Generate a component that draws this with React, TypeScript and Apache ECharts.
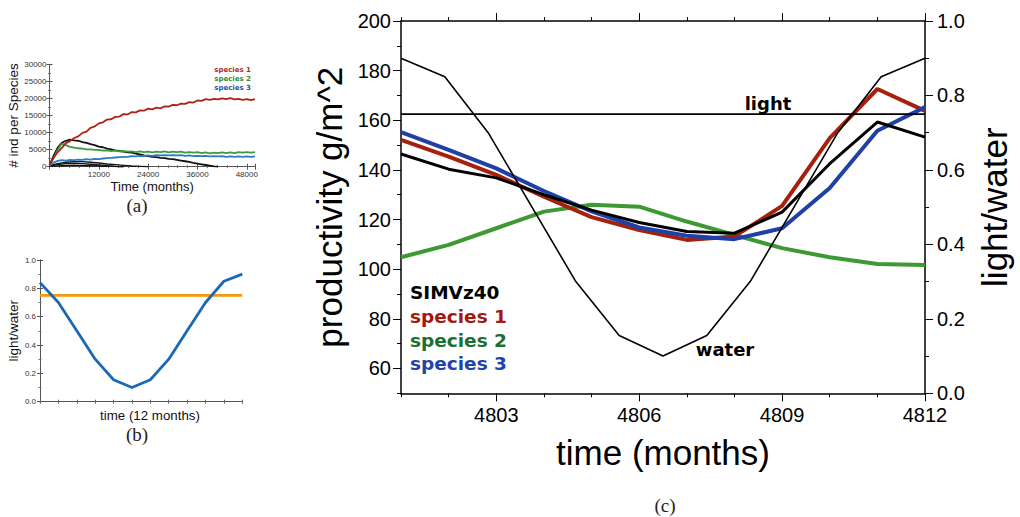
import React, { useEffect, useRef } from "react";
import * as echarts from "echarts";

// ---------- panel (a) data ----------
const aTime = [0,1000,2000,3000,4000,5000,6000,7000,8000,9000,10000,11000,12000,13000,14000,15000,16000,17000,18000,19000,20000,21000,22000,23000,24000,25000,26000,27000,28000,29000,30000,31000,32000,33000,34000,35000,36000,37000,38000,39000,40000,41000,42000,43000,44000,45000,46000,47000,48000,49000,50000];
const aSpecies1 = [500,2600,4300,5500,6900,7500,8400,8900,9900,10300,11400,11800,12700,13000,13800,13900,14600,14700,15400,15300,16000,15900,16500,16400,17000,16800,17300,17100,17700,17600,18100,18000,18500,18400,18900,18800,19400,19300,19800,19600,19900,19700,20000,19800,20100,19700,19900,19600,19800,19500,19800];
const aSpecies2 = [400,2500,5000,6800,6300,5800,5600,5400,5300,5100,5100,4900,4900,4700,4800,4600,4700,4500,4600,4400,4500,4300,4500,4300,4400,4200,4400,4300,4500,4200,4400,4300,4400,4100,4300,4100,4300,4000,4200,3900,4100,4000,4200,4000,4200,4000,4300,4100,4300,4100,4300];
const aSpecies3 = [300,1200,1700,1900,1800,2000,1900,2100,2000,2200,2100,2300,2200,2400,2500,2600,2700,2800,2900,2900,3100,3000,3200,3100,3300,3200,3400,3300,3400,3300,3400,3300,3400,3200,3300,3100,3200,3100,3200,3000,3100,3000,3100,2900,3000,2900,3000,2900,3000,2900,3000];
const aBlack1 = [500,3200,5600,7000,7600,7900,7700,7600,7200,7000,6600,6300,5900,5700,5300,5100,4800,4600,4400,4200,4100,3800,3600,3300,3100,2900,2800,2600,2500,2300,2200,2000,1800,1600,1400,1100,900,700,500,300,100,0];
const aBlack2Time = [0,2000,4000,6000,8000,10000,12000,14000,16000,18000,20000,22000,24000];
const aBlack2 = [300,900,1300,1500,1500,1300,1100,800,600,400,200,100,0];
const aBlack3Time = [0,2000,4000,6000,8000,10000,12000,14000,16000,18000];
const aBlack3 = [200,600,900,1000,900,700,500,300,100,0];
const aBlack4Time = [0,3000,6000,9000,12000,15000,18000];
const aBlack4 = [100,300,400,300,200,100,0];

// ---------- panel (b) data ----------
const bMonth = [0,1,2,3,4,5,6,7,8,9,10,11];
const bWater = [0.84,0.70,0.50,0.30,0.155,0.10,0.155,0.30,0.50,0.70,0.85,0.90];
const bLight = [0.75,0.75];
const bLightX = [0,11];

// ---------- panel (c) data ----------
const cMonths = [4801,4802,4803,4804,4805,4806,4807,4808,4809,4810,4811,4812];
const cSimv = [146.4,140.3,136.8,130.0,123.8,118.8,115.2,114.5,123.0,142.5,159.3,153.2];
const cSpecies1 = [152.1,145.4,138.0,129.2,121.0,115.8,111.8,113.2,125.5,152.8,172.6,163.8];
const cSpecies2 = [104.8,109.8,116.5,123.2,126.0,125.2,119.2,113.8,108.5,104.8,102.1,101.7];
const cSpecies3 = [155.2,148.1,140.6,131.5,123.3,116.8,113.5,112.1,116.5,132.7,155.8,165.3];
const cWaterX = [4801,4801.92,4802.83,4803.75,4804.67,4805.58,4806.5,4807.42,4808.33,4809.25,4810.17,4811.08,4812];
const cWater = [0.90,0.85,0.70,0.50,0.30,0.155,0.10,0.155,0.30,0.50,0.70,0.85,0.90];
const cLightX = [4801,4812];
const cLight = [0.75,0.75];
const cLeftMajor = [60,80,100,120,140,160,180,200];
const cXMajor = [4803,4806,4809,4812];

const pairs = (xs: number[], ys: number[]) => ys.map((y, i) => [xs[i], y]);

const SANS = "Liberation Sans";
const BOLD = "DejaVu Sans";
const SERIF = "Liberation Serif";

const txt = (text: string, x: number, y: number, size: number, family: string, fill: string, align = "center", weight = "normal") => ({
  type: "text",
  style: { text, x, y, fontSize: size, fontFamily: family, fontWeight: weight, fill, textAlign: align, textVerticalAlign: "middle" },
});

export default function App() {
  const ref = useRef<HTMLDivElement>(null);
  useEffect(() => {
    if (!ref.current) return;
    const chart = echarts.init(ref.current, null, { renderer: "svg" });
    const noSplit = { show: false };
    const frameA = { show: true, lineStyle: { color: "#555", width: 1 } };
    const frameC = { show: true, lineStyle: { color: "#000", width: 1.5 } };
    const option: any = {
      animation: false,
      backgroundColor: "#fff",
      grid: [
        { left: 49.5, top: 64.3, width: 205.5, height: 102.4 },
        { left: 40, top: 260, width: 202.3, height: 141.7 },
        { left: 401, top: 21, width: 532, height: 372.3 },
      ],
      xAxis: [
        {
          gridIndex: 0, type: "value", position: "bottom", min: 0, max: 50000, interval: 12000,
          axisLine: frameA, splitLine: noSplit,
          axisTick: { show: true, length: 3, lineStyle: { color: "#555" } },
          minorTick: { show: true, splitNumber: 5, length: 1.5, lineStyle: { color: "#777" } },
          axisLabel: { fontFamily: SANS, fontSize: 8, color: "#333", margin: 4, showMaxLabel: false,
            formatter: (v: number) => (v > 0 && v % 12000 === 0 ? String(v) : "") },
          name: "Time (months)", nameLocation: "middle", nameGap: 11,
          nameTextStyle: { fontFamily: SANS, fontSize: 13, color: "#111" },
        },
        {
          gridIndex: 0, type: "value", position: "top", min: 0, max: 50000, interval: 12000,
          axisLine: frameA, splitLine: noSplit, axisLabel: { show: false },
          axisTick: { show: true, length: 3, lineStyle: { color: "#555" } },
          minorTick: { show: true, splitNumber: 5, length: 1.5, lineStyle: { color: "#777" } },
        },
        {
          gridIndex: 1, type: "value", position: "bottom", min: 0, max: 11, interval: 1,
          axisLine: frameA, splitLine: noSplit, axisLabel: { show: false },
          axisTick: { show: true, length: 2, lineStyle: { color: "#666" } },
        },
        {
          gridIndex: 1, type: "value", position: "top", min: 0, max: 11, interval: 1,
          axisLine: frameA, splitLine: noSplit, axisLabel: { show: false },
          axisTick: { show: true, length: 2, lineStyle: { color: "#666" } },
        },
        {
          gridIndex: 2, type: "value", position: "bottom", min: 4801, max: 4812, interval: 1,
          axisLine: frameC, splitLine: noSplit,
          axisTick: { show: true, length: 4, lineStyle: { color: "#000", width: 1 } },
          axisLabel: { fontFamily: SANS, fontSize: 20, color: "#000", margin: 12,
            formatter: (v: number) => (cXMajor.indexOf(v) >= 0 ? String(v) : "") },
          name: "time (months)", nameLocation: "middle", nameGap: 42,
          nameTextStyle: { fontFamily: SANS, fontSize: 35, color: "#000" },
        },
        {
          gridIndex: 2, type: "value", position: "bottom", min: 4801, max: 4812,
          axisLine: { show: false }, splitLine: noSplit, axisLabel: { show: false },
          axisTick: { show: true, length: 8, customValues: cXMajor, lineStyle: { color: "#000", width: 1 } },
        },
        {
          gridIndex: 2, type: "value", position: "top", min: 4801, max: 4812, interval: 1,
          axisLine: frameC, splitLine: noSplit, axisLabel: { show: false },
          axisTick: { show: true, length: 4, lineStyle: { color: "#000", width: 1 } },
        },
        {
          gridIndex: 2, type: "value", position: "top", min: 4801, max: 4812,
          axisLine: { show: false }, splitLine: noSplit, axisLabel: { show: false },
          axisTick: { show: true, length: 8, customValues: cXMajor, lineStyle: { color: "#000", width: 1 } },
        },
      ],
      yAxis: [
        {
          gridIndex: 0, type: "value", position: "left", min: 0, max: 30000, interval: 5000,
          axisLine: frameA, splitLine: noSplit,
          axisTick: { show: true, length: 3, lineStyle: { color: "#555" } },
          minorTick: { show: true, splitNumber: 2, length: 1.5, lineStyle: { color: "#777" } },
          axisLabel: { fontFamily: SANS, fontSize: 8, color: "#333", margin: 3,
            formatter: (v: number) => String(v) },
          name: "# ind per Species", nameLocation: "middle", nameGap: 27, nameRotate: 90,
          nameTextStyle: { fontFamily: SANS, fontSize: 13.5, color: "#111" },
        },
        {
          gridIndex: 0, type: "value", position: "right", min: 0, max: 30000, interval: 5000,
          axisLine: frameA, splitLine: noSplit, axisLabel: { show: false },
          axisTick: { show: true, length: 3, lineStyle: { color: "#555" } },
          minorTick: { show: true, splitNumber: 2, length: 1.5, lineStyle: { color: "#777" } },
        },
        {
          gridIndex: 1, type: "value", position: "left", min: 0, max: 1, interval: 0.2,
          axisLine: frameA, splitLine: noSplit,
          axisTick: { show: true, length: 3, lineStyle: { color: "#555" } },
          minorTick: { show: true, splitNumber: 2, length: 1.5, lineStyle: { color: "#777" } },
          axisLabel: { fontFamily: SANS, fontSize: 8, color: "#333", margin: 4,
            formatter: (v: number) => v.toFixed(1) },
          name: "light/water", nameLocation: "middle", nameGap: 19, nameRotate: 90,
          nameTextStyle: { fontFamily: SANS, fontSize: 13.5, color: "#111" },
        },
        {
          gridIndex: 1, type: "value", position: "right", min: 0, max: 1, interval: 0.2,
          axisLine: frameA, splitLine: noSplit, axisLabel: { show: false },
          axisTick: { show: true, length: 3, lineStyle: { color: "#555" } },
          minorTick: { show: true, splitNumber: 2, length: 1.5, lineStyle: { color: "#777" } },
        },
        {
          gridIndex: 2, type: "value", position: "left", min: 50, max: 200, interval: 10,
          axisLine: frameC, splitLine: noSplit,
          axisTick: { show: true, length: 4, lineStyle: { color: "#000", width: 1 } },
          axisLabel: { fontFamily: SANS, fontSize: 20, color: "#000", margin: 10,
            formatter: (v: number) => (cLeftMajor.indexOf(v) >= 0 ? String(v) : "") },
          name: "productivity g/m^2", nameLocation: "middle", nameGap: 46, nameRotate: 90,
          nameTextStyle: { fontFamily: SANS, fontSize: 35, color: "#000" },
        },
        {
          gridIndex: 2, type: "value", position: "left", min: 50, max: 200,
          axisLine: { show: false }, splitLine: noSplit, axisLabel: { show: false },
          axisTick: { show: true, length: 8, customValues: cLeftMajor, lineStyle: { color: "#000", width: 1 } },
        },
        {
          gridIndex: 2, type: "value", position: "right", min: 0, max: 1, interval: 0.2,
          axisLine: frameC, splitLine: noSplit,
          axisTick: { show: true, length: 8, lineStyle: { color: "#000", width: 1 } },
          minorTick: { show: true, splitNumber: 2, length: 4, lineStyle: { color: "#000", width: 1 } },
          axisLabel: { fontFamily: SANS, fontSize: 20, color: "#000", margin: 12,
            formatter: (v: number) => v.toFixed(1) },
          name: "light/water", nameLocation: "middle", nameGap: 52, nameRotate: 90,
          nameTextStyle: { fontFamily: SANS, fontSize: 35, color: "#000" },
        },
      ],
      series: [
        // panel (a)
        { type: "line", xAxisIndex: 0, yAxisIndex: 0, data: pairs(aTime, aBlack1), showSymbol: false, lineStyle: { color: "#111", width: 1.8 } },
        { type: "line", xAxisIndex: 0, yAxisIndex: 0, data: pairs(aBlack2Time, aBlack2), showSymbol: false, lineStyle: { color: "#111", width: 1.4 } },
        { type: "line", xAxisIndex: 0, yAxisIndex: 0, data: pairs(aBlack3Time, aBlack3), showSymbol: false, lineStyle: { color: "#111", width: 1.4 } },
        { type: "line", xAxisIndex: 0, yAxisIndex: 0, data: pairs(aBlack4Time, aBlack4), showSymbol: false, lineStyle: { color: "#111", width: 1.4 } },
        { type: "line", xAxisIndex: 0, yAxisIndex: 0, data: pairs(aTime, aSpecies3), showSymbol: false, lineStyle: { color: "#2a7cc6", width: 1.8 } },
        { type: "line", xAxisIndex: 0, yAxisIndex: 0, data: pairs(aTime, aSpecies2), showSymbol: false, lineStyle: { color: "#3d9a3a", width: 1.8 } },
        { type: "line", xAxisIndex: 0, yAxisIndex: 0, data: pairs(aTime, aSpecies1), showSymbol: false, lineStyle: { color: "#ad2416", width: 1.8 } },
        // panel (b)
        { type: "line", xAxisIndex: 2, yAxisIndex: 2, data: pairs(bLightX, bLight), showSymbol: false, lineStyle: { color: "#f7960f", width: 2.8 } },
        { type: "line", xAxisIndex: 2, yAxisIndex: 2, data: pairs(bMonth, bWater), showSymbol: false, lineStyle: { color: "#1a69b4", width: 2.8 } },
        // panel (c)
        { type: "line", xAxisIndex: 4, yAxisIndex: 4, data: pairs(cMonths, cSpecies2), showSymbol: false, lineStyle: { color: "#3d9a32", width: 4 } },
        { type: "line", xAxisIndex: 4, yAxisIndex: 4, data: pairs(cMonths, cSpecies1), showSymbol: false, lineStyle: { color: "#a5200e", width: 4 } },
        { type: "line", xAxisIndex: 4, yAxisIndex: 4, data: pairs(cMonths, cSpecies3), showSymbol: false, lineStyle: { color: "#1f40a6", width: 4 } },
        { type: "line", xAxisIndex: 4, yAxisIndex: 4, data: pairs(cMonths, cSimv), showSymbol: false, lineStyle: { color: "#000", width: 3 } },
        { type: "line", xAxisIndex: 4, yAxisIndex: 6, data: pairs(cWaterX, cWater), showSymbol: false, lineStyle: { color: "#000", width: 1.6 } },
        { type: "line", xAxisIndex: 4, yAxisIndex: 6, data: pairs(cLightX, cLight), showSymbol: false, lineStyle: { color: "#000", width: 1.6 } },
      ],
      graphic: [
        // panel (a) legend
        txt("species 1", 251, 70, 7, BOLD, "#b02a22", "right", "bold"),
        txt("species 2", 251, 79, 7, BOLD, "#2f8a3a", "right", "bold"),
        txt("species 3", 251, 88, 7, BOLD, "#2850b0", "right", "bold"),
        // panel (b) x title
        txt("time (12 months)", 150, 415, 13.3, SANS, "#111"),
        // panel (c) annotations
        txt("light", 768, 103, 18, BOLD, "#000", "center", "bold"),
        txt("water", 725, 349, 18, BOLD, "#000", "center", "bold"),
        txt("SIMVz40", 410, 292, 18.5, BOLD, "#000", "left", "bold"),
        txt("species 1", 410, 316, 18.5, BOLD, "#a31a10", "left", "bold"),
        txt("species 2", 410, 340, 18.5, BOLD, "#1a7030", "left", "bold"),
        txt("species 3", 410, 363.5, 18.5, BOLD, "#2244aa", "left", "bold"),
        // captions
        txt("(a)", 137, 205, 19, SERIF, "#222"),
        txt("(b)", 137, 434, 19, SERIF, "#222"),
        txt("(c)", 665, 505, 19, SERIF, "#222"),
      ],
    };
    chart.setOption(option);
    return () => chart.dispose();
  }, []);
  return (
    <div
      ref={ref}
      style={{ position: "absolute", left: 0, top: 0, width: 1020, height: 517, background: "#fff" }}
    />
  );
}
